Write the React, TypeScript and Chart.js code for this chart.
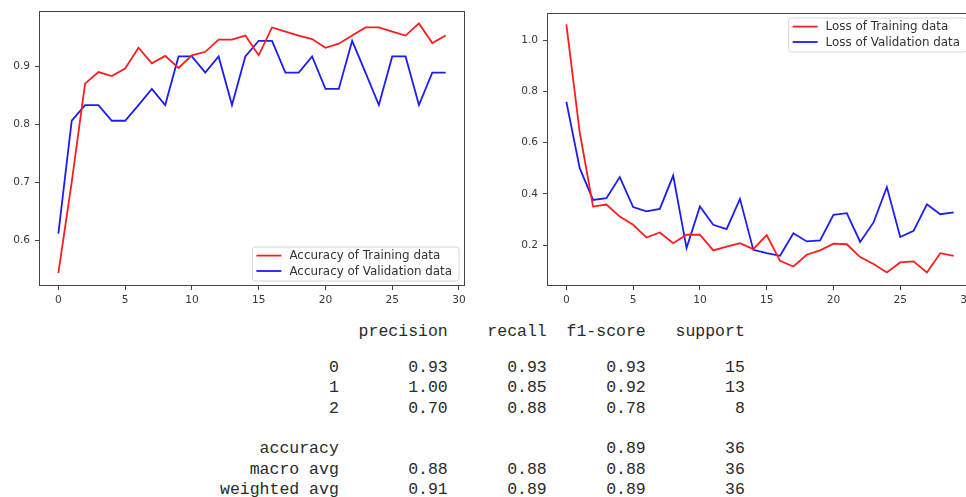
import React, { useEffect, useRef } from "react";
import { Chart, registerables } from "chart.js";

Chart.register(...registerables);

const epochs = [0,1,2,3,4,5,6,7,8,9,10,11,12,13,14,15,16,17,18,19,20,21,22,23,24,25,26,27,28,29];

const trainAcc = [0.543,0.700,0.870,0.890,0.883,0.896,0.932,0.905,0.918,0.897,0.919,0.925,0.946,0.946,0.953,0.919,0.967,0.960,0.953,0.947,0.932,0.939,0.953,0.967,0.967,0.960,0.953,0.974,0.940,0.953];
const valAcc = [0.611,0.806,0.833,0.833,0.806,0.806,0.833,0.861,0.833,0.917,0.917,0.889,0.917,0.833,0.917,0.944,0.944,0.889,0.889,0.917,0.861,0.861,0.944,0.889,0.833,0.917,0.917,0.833,0.889,0.889];

const trainLoss = [1.061,0.640,0.350,0.358,0.311,0.279,0.229,0.249,0.207,0.240,0.240,0.179,0.194,0.207,0.184,0.239,0.138,0.116,0.162,0.179,0.205,0.203,0.153,0.126,0.093,0.132,0.136,0.093,0.168,0.158];
const valLoss = [0.759,0.500,0.376,0.383,0.465,0.348,0.331,0.341,0.471,0.188,0.350,0.279,0.262,0.380,0.181,0.168,0.158,0.246,0.214,0.218,0.318,0.324,0.212,0.288,0.426,0.231,0.255,0.359,0.320,0.327];

const xTicks = [0,5,10,15,20,25,30];
const accTicks = [0.6,0.7,0.8,0.9];
const lossTicks = [0.2,0.4,0.6,0.8,1.0];

const accLabels = ["Accuracy of Training data", "Accuracy of Validation data"];
const lossLabels = ["Loss of Training data", "Loss of Validation data"];

const reportHeader = ["precision", "recall", "f1-score", "support"];
const reportRows = ["0", "1", "2"];
const reportPrecision = [0.93, 1.0, 0.7];
const reportRecall = [0.93, 0.85, 0.88];
const reportF1 = [0.93, 0.92, 0.78];
const reportSupport = [15, 13, 8];
const accuracyRow = { f1: 0.89, support: 36 };
const avgNames = ["macro avg", "weighted avg"];
const avgPrecision = [0.88, 0.91];
const avgRecall = [0.88, 0.89];
const avgF1 = [0.88, 0.89];
const avgSupport = [36, 36];

const RED = "#ff1c1c";
const BLUE = "#1c1cf5";
const SPINE = "#444";
const TICKFONT = { family: "'DejaVu Sans'", size: 10.6 };

const boxPlugin = {
  id: "mplBox",
  afterDraw(chart: any) {
    const { ctx, chartArea: a } = chart;
    ctx.save();
    ctx.strokeStyle = SPINE;
    ctx.lineWidth = 1;
    ctx.strokeRect(Math.round(a.left) + 0.5, Math.round(a.top) + 0.5, Math.round(a.right - a.left) - 1, Math.round(a.bottom - a.top) - 1);
    ctx.restore();
  },
};

const legendPlugin = {
  id: "mplLegend",
  afterDraw(chart: any, _args: any, opts: any) {
    if (!opts || !opts.pos) return;
    const { ctx, chartArea: a } = chart;
    ctx.save();
    ctx.font = "11.9px 'DejaVu Sans'";
    const items = chart.data.datasets.map((d: any) => ({ label: d.label, color: d.borderColor }));
    const tw = Math.max(...items.map((it: any) => ctx.measureText(it.label).width));
    const w = 4 + 25 + 8 + tw + 7;
    const rowH = 15.4;
    const h = 34;
    const right = a.right - 6;
    const left = right - w;
    const top = opts.pos === "lower right" ? a.bottom - 5 - h : a.top + 5;
    const r = 3;
    ctx.beginPath();
    ctx.moveTo(left + r, top);
    ctx.lineTo(left + w - r, top);
    ctx.arcTo(left + w, top, left + w, top + r, r);
    ctx.lineTo(left + w, top + h - r);
    ctx.arcTo(left + w, top + h, left + w - r, top + h, r);
    ctx.lineTo(left + r, top + h);
    ctx.arcTo(left, top + h, left, top + h - r, r);
    ctx.lineTo(left, top + r);
    ctx.arcTo(left, top, left + r, top, r);
    ctx.closePath();
    ctx.fillStyle = "rgba(255,255,255,0.85)";
    ctx.fill();
    ctx.strokeStyle = "#d6d6d6";
    ctx.lineWidth = 1;
    ctx.stroke();
    items.forEach((it: any, i: number) => {
      const y = top + 8.6 + i * rowH;
      ctx.beginPath();
      ctx.strokeStyle = it.color;
      ctx.lineWidth = 1.8;
      ctx.moveTo(left + 4, y);
      ctx.lineTo(left + 29, y);
      ctx.stroke();
      ctx.fillStyle = "#333";
      ctx.textBaseline = "middle";
      ctx.textAlign = "left";
      ctx.fillText(it.label, left + 37, y + 0.5);
    });
    ctx.restore();
  },
};

function makeConfig(
  a: number[], b: number[], labels: string[], yTicks: number[],
  yMin: number, yMax: number, yWidth: number, padTop: number, padRight: number, xHeight: number, pos: string
): any {
  return {
    type: "line",
    data: {
      datasets: [
        { label: labels[0], data: epochs.map((e, i) => ({ x: e, y: a[i] })), borderColor: RED, borderWidth: 1.8, pointRadius: 0, fill: false, tension: 0 },
        { label: labels[1], data: epochs.map((e, i) => ({ x: e, y: b[i] })), borderColor: BLUE, borderWidth: 1.8, pointRadius: 0, fill: false, tension: 0 },
      ],
    },
    options: {
      animation: false,
      responsive: false,
      maintainAspectRatio: false,
      events: [],
      layout: { padding: { top: padTop, right: padRight, left: 0, bottom: 0 } },
      plugins: {
        legend: { display: false },
        tooltip: { enabled: false },
        title: { display: false },
        mplLegend: { pos },
      },
      scales: {
        x: {
          type: "linear",
          min: -1.45,
          max: 30.45,
          afterBuildTicks: (ax: any) => { ax.ticks = xTicks.map((v) => ({ value: v })); },
          afterFit: (ax: any) => { ax.height = xHeight; },
          grid: { display: true, drawOnChartArea: false, drawTicks: true, tickLength: 4, color: SPINE, lineWidth: 1 },
          border: { display: false },
          ticks: { font: TICKFONT, color: "#3a3a3a", padding: 4, maxRotation: 0, autoSkip: false, callback: (v: any) => String(v) },
        },
        y: {
          type: "linear",
          min: yMin,
          max: yMax,
          afterBuildTicks: (ax: any) => { ax.ticks = yTicks.map((v) => ({ value: v })); },
          afterFit: (ax: any) => { ax.width = yWidth; },
          grid: { display: true, drawOnChartArea: false, drawTicks: true, tickLength: 4, color: SPINE, lineWidth: 1 },
          border: { display: false },
          ticks: { font: TICKFONT, color: "#3a3a3a", padding: 5, autoSkip: false, callback: (v: any) => Number(v).toFixed(1) },
        },
      },
    },
    plugins: [boxPlugin, legendPlugin],
  };
}

function LineChart(props: { config: () => any; left: number; width: number; height: number }) {
  const ref = useRef<HTMLCanvasElement>(null);
  useEffect(() => {
    if (!ref.current) return;
    const chart = new Chart(ref.current, props.config());
    return () => chart.destroy();
  }, []);
  return (
    <canvas
      ref={ref}
      width={props.width}
      height={props.height}
      style={{ position: "absolute", left: props.left, top: 0, width: props.width, height: props.height }}
    />
  );
}

const pad = (s: string, n: number) => s.padStart(n, " ");
const f2 = (v: number) => v.toFixed(2);

function reportLines(): { text: string; row: number }[] {
  const lines: { text: string; row: number }[] = [];
  lines.push({ text: pad("", 12) + " " + reportHeader.map((h) => " " + pad(h, 9)).join(""), row: -1 });
  reportRows.forEach((r, i) => {
    lines.push({
      text: pad(r, 12) + " " + " " + pad(f2(reportPrecision[i]), 9) + " " + pad(f2(reportRecall[i]), 9) + " " + pad(f2(reportF1[i]), 9) + " " + pad(String(reportSupport[i]), 9),
      row: i,
    });
  });
  lines.push({
    text: pad("accuracy", 12) + " " + " " + pad("", 9) + " " + pad("", 9) + " " + pad(f2(accuracyRow.f1), 9) + " " + pad(String(accuracyRow.support), 9),
    row: 4,
  });
  avgNames.forEach((n, i) => {
    lines.push({
      text: pad(n, 12) + " " + " " + pad(f2(avgPrecision[i]), 9) + " " + pad(f2(avgRecall[i]), 9) + " " + pad(f2(avgF1[i]), 9) + " " + pad(String(avgSupport[i]), 9),
      row: 5 + i,
    });
  });
  return lines;
}

export default function App() {
  const lines = reportLines();
  return (
    <div style={{ position: "fixed", left: 0, top: 0, width: 966, height: 497, overflow: "hidden", background: "#fff" }}>
      <LineChart
        left={0}
        width={480}
        height={310}
        config={() => makeConfig(trainAcc, valAcc, accLabels, accTicks, 0.5207, 0.9948, 39, 11, 15, 24, "lower right")}
      />
      <LineChart
        left={480}
        width={510}
        height={310}
        config={() => makeConfig(trainLoss, valLoss, lossLabels, lossTicks, 0.04, 1.1054, 67, 13, 17, 24, "upper right")}
      />
      {lines.map((l, i) => (
        <div
          key={i}
          style={{
            position: "absolute",
            left: 220,
            top: l.row < 0 ? 322 : 358 + l.row * 20.3,
            fontFamily: "'Liberation Mono', monospace",
            fontSize: 16.5,
            lineHeight: "20px",
            whiteSpace: "pre",
            color: "#2a2a2a",
          }}
        >
          {l.text}
        </div>
      ))}
    </div>
  );
}
